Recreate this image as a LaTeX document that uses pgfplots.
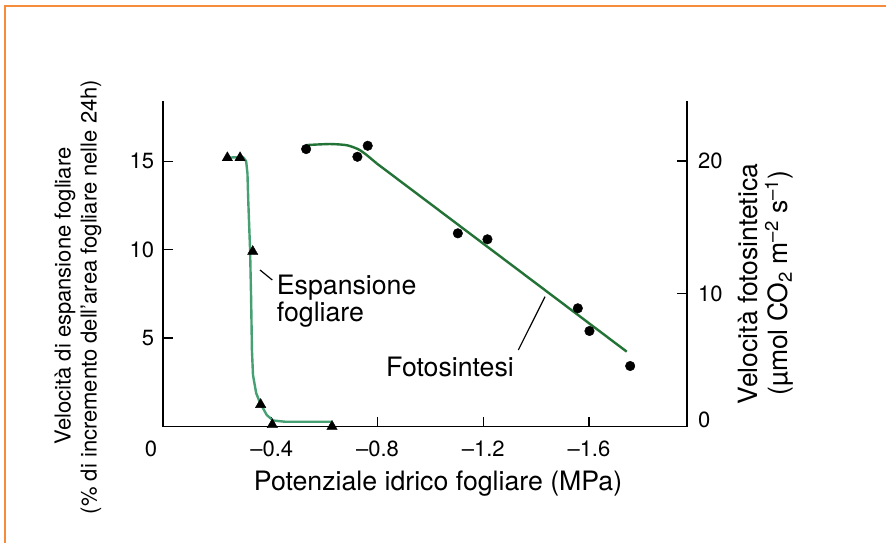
\documentclass[border=0pt]{standalone}
\usepackage{pgfplots}
\pgfplotsset{compat=1.18}
\usepackage{fontspec}
\setmainfont{TeX Gyre Heros}
\definecolor{frameorange}{RGB}{245,140,60}
\definecolor{espcol}{RGB}{70,160,115}
\definecolor{fotocol}{RGB}{35,115,55}

\pgfplotsset{base/.style={
  scale only axis, width=523.6pt, height=325.5pt,
  at={(163.4pt,-426.5pt)}, anchor=south west,
  xmin=-1.971, xmax=0.01, x dir=reverse, clip=false,
  tick align=inside, major tick length=10pt,
  tick style={black, line width=1.3pt},
  axis line style={black, line width=1.8pt},
  ticklabel style={font=\fontsize{22}{22}\selectfont, inner sep=0pt},
  /pgf/number format/assume math mode=true}}

\begin{document}
\begin{tikzpicture}
\path[use as bounding box] (0pt,0pt) rectangle (886pt,-543pt);
\fill[white] (0pt,0pt) rectangle (886pt,-543pt);
\draw[frameorange, line width=2.5pt] (5pt,-543pt) -- (5pt,-6pt) -- (886pt,-6pt);

\begin{axis}[base, ymin=0, ymax=18.4,
  axis x line*=bottom, axis y line*=left,
  xtick={-0.4,-0.8,-1.2,-1.6}, xticklabels={--0.4,--0.8,--1.2,--1.6},
  ytick={5,10,15}, yticklabels={5,10,15},
  xticklabel style={yshift=-14pt}, yticklabel style={xshift=-9pt}]
% Espansione fogliare: fitted curve
\addplot[espcol, line width=2.4pt, line join=round, no marks] coordinates {
(-0.232,15.2) (-0.291,15.23) (-0.303,15.0) (-0.308,14.32) (-0.311,12.8)
(-0.318,9.97) (-0.322,7.15) (-0.325,4.32) (-0.329,2.91) (-0.341,1.89)
(-0.356,1.33) (-0.381,0.65) (-0.405,0.34) (-0.450,0.27) (-0.628,0.27)};
% Espansione fogliare: measured points
\addplot[only marks, mark=triangle*, mark size=6pt, black] coordinates {
(-0.232,15.19) (-0.280,15.19) (-0.328,9.89) (-0.358,1.24) (-0.402,0.1) (-0.628,0.0)};
\end{axis}

\begin{axis}[base, ymin=0, ymax=24.533,
  axis x line=none, axis y line*=right,
  ytick={10,20}, yticklabels={10,20},
  extra y ticks={0}, extra y tick labels={0},
  extra y tick style={yticklabel style={yshift=7pt}},
  yticklabel style={xshift=11pt}]
% Fotosintesi: fitted curve
\addplot[fotocol, line width=2.4pt, smooth, tension=0.4, no marks] coordinates {
(-0.530,21.21) (-0.620,21.29) (-0.684,21.2) (-0.728,20.89) (-0.759,20.46) (-0.797,19.83)};
\addplot[fotocol, line width=2.4pt, no marks] coordinates {
(-0.797,19.83) (-1.743,5.64)};
% Fotosintesi: measured points
\addplot[only marks, mark=*, mark size=4.8pt, black] coordinates {
(-0.530,20.91) (-0.724,20.33) (-0.763,21.16) (-1.104,14.56) (-1.216,14.11)
(-1.558,8.91) (-1.602,7.20) (-1.756,4.56)};
\end{axis}

\node[font=\fontsize{22}{22}\selectfont] at (151pt,-449pt) {0};
\node[rotate=90, font=\fontsize{22}{22}\selectfont] at (65pt,-296pt) {Velocità di espansione fogliare};
\node[rotate=90, font=\fontsize{22}{22}\selectfont] at (91pt,-297pt) {(\% di incremento dell'area fogliare nelle 24h)};
\node[rotate=90, font=\fontsize{26.5}{26.5}\selectfont] at (748pt,-284pt) {Velocità fotosintetica};
\node[rotate=90, font=\fontsize{26.5}{26.5}\selectfont] at (779pt,-283pt) {(µmol CO\textsubscript{2} m\textsuperscript{--2} s\textsuperscript{--1})};
\node[font=\fontsize{26.7}{26.7}\selectfont] at (438pt,-484pt) {Potenziale idrico fogliare (MPa)};
\node[anchor=west, align=left, inner sep=0pt, font=\fontsize{26.7}{22}\selectfont] at (276.7pt,-301pt) {Espansione\\fogliare};
\node[anchor=west, inner sep=0pt, font=\fontsize{26.7}{26.7}\selectfont] at (386pt,-366.7pt) {Fotosintesi};
\draw[line width=1.2pt] (260pt,-270pt) -- (272.3pt,-280pt);
\draw[line width=1.2pt] (518.3pt,-350pt) -- (545pt,-296.7pt);
\end{tikzpicture}
\end{document}
